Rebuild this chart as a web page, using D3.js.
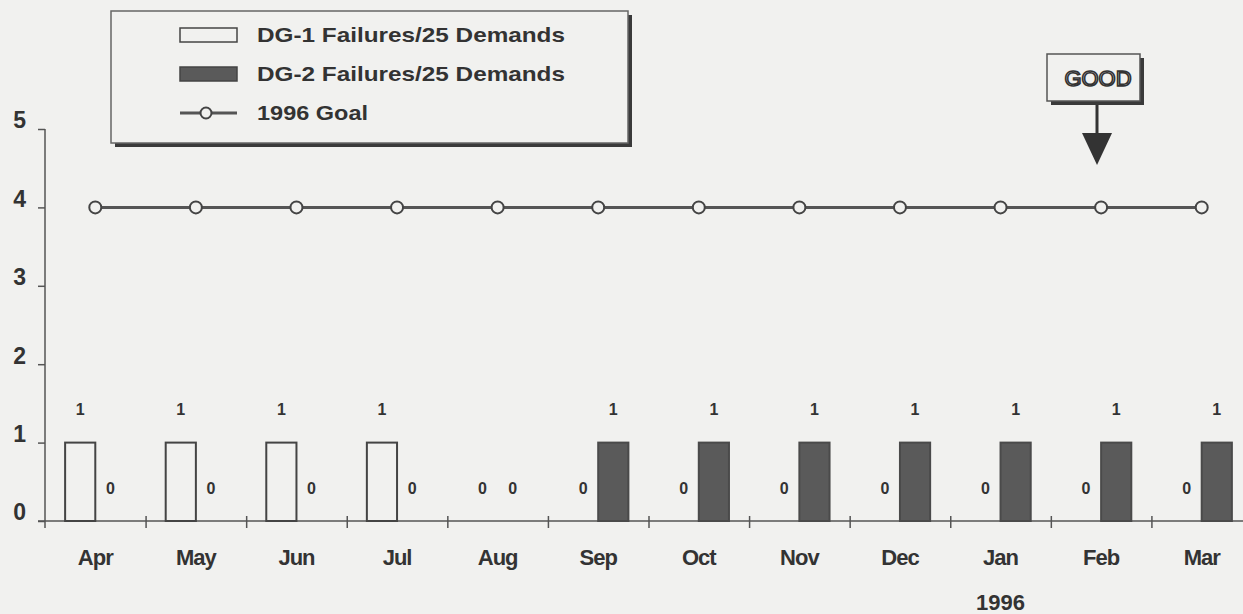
<!DOCTYPE html>
<html>
<head>
<meta charset="utf-8">
<script src="https://cdn.jsdelivr.net/npm/d3@7"></script>
<style>
  body { margin: 0; background: #f1f1ef; }
  svg { display: block; font-family: "Liberation Sans", Arial, sans-serif; }
  .axis path, .axis line { stroke: #555; stroke-width: 1.5; }
  .axis text { fill: #333; }
</style>
</head>
<body>
<div id="chart"></div>
<script>
// Data
var months = ["Apr", "May", "Jun", "Jul", "Aug", "Sep", "Oct", "Nov", "Dec", "Jan", "Feb", "Mar"];
var dg1Failures = [1, 1, 1, 1, 0, 0, 0, 0, 0, 0, 0, 0];
var dg2Failures = [0, 0, 0, 0, 0, 1, 1, 1, 1, 1, 1, 1];
var goal1996 = [4, 4, 4, 4, 4, 4, 4, 4, 4, 4, 4, 4];
var yTicks = [0, 1, 2, 3, 4, 5];
var seriesNames = ["DG-1  Failures/25 Demands", "DG-2  Failures/25 Demands", "1996 Goal"];

var width = 1243, height = 614;
var ink = "#333";
var bg = "#f1f1ef";

var svg = d3.select("#chart").append("svg")
  .attr("width", width)
  .attr("height", height);

// Scales
var x = d3.scaleBand()
  .domain(months)
  .range([45, 1252])
  .paddingInner(0.4)
  .paddingOuter(0.2);

var xSub = d3.scaleBand()
  .domain(["dg1", "dg2"])
  .range([0, x.bandwidth()]);

var xEdge = d3.scaleLinear()
  .domain([0, months.length])
  .range([45, 1252]);

var y = d3.scaleLinear()
  .domain([0, 5])
  .range([521, 129]);

// Y axis
var yAxis = svg.append("g")
  .attr("class", "y axis")
  .attr("transform", "translate(45,0)")
  .call(d3.axisLeft(y).tickValues(yTicks).tickFormat(d3.format("d"))
    .tickSize(7).tickPadding(12).tickSizeOuter(0));

yAxis.select(".domain").attr("d", "M0," + y(5) + "V" + (y(0) + 7));
yAxis.selectAll("text")
  .attr("font-size", 23)
  .attr("font-weight", "bold")
  .attr("dy", "-0.05em");

// X axis: boundary ticks
var xAxis = svg.append("g")
  .attr("class", "x axis")
  .attr("transform", "translate(0," + y(0) + ")")
  .call(d3.axisBottom(xEdge).tickValues(d3.range(1, months.length)).tickSize(7).tickFormat("").tickSizeOuter(0));

xAxis.select(".domain").attr("d", "M38,0H" + width);
xAxis.selectAll(".tick line").attr("y1", -5);

// X labels
var xLabels = svg.append("g")
  .attr("class", "x axis labels")
  .attr("transform", "translate(0," + y(0) + ")")
  .call(d3.axisBottom(x).tickSize(0).tickPadding(0));

xLabels.select(".domain").remove();
xLabels.selectAll("text")
  .attr("y", 44)
  .attr("dy", 0)
  .attr("font-size", 22)
  .attr("font-weight", "bold")
  .attr("letter-spacing", "-1px");

xLabels.selectAll(".tick")
  .filter(function(d) { return d === "Jan"; })
  .append("text")
  .attr("y", 89)
  .attr("text-anchor", "middle")
  .attr("font-size", 22)
  .attr("font-weight", "bold")
  .attr("fill", ink)
  .text("1996");

// Bars
var rows = months.map(function(m, i) {
  return { month: m, values: [
    { key: "dg1", val: dg1Failures[i] },
    { key: "dg2", val: dg2Failures[i] }
  ] };
});

var groups = svg.selectAll(".month")
  .data(rows)
  .enter()
  .append("g")
  .attr("class", "month")
  .attr("transform", function(d) { return "translate(" + x(d.month) + ",0)"; });

groups.selectAll("rect")
  .data(function(d) { return d.values.filter(function(v) { return v.val > 0; }); })
  .enter()
  .append("rect")
  .attr("x", function(d) { return xSub(d.key); })
  .attr("y", function(d) { return y(d.val); })
  .attr("width", xSub.bandwidth())
  .attr("height", function(d) { return y(0) - y(d.val); })
  .attr("fill", function(d) { return d.key === "dg1" ? bg : "#5a5a5a"; })
  .attr("stroke", function(d) { return d.key === "dg1" ? "#444" : "#4a4a4a"; })
  .attr("stroke-width", 2);

// Value labels
groups.selectAll(".val")
  .data(function(d) { return d.values; })
  .enter()
  .append("text")
  .attr("class", "val")
  .attr("x", function(d) { return xSub(d.key) + xSub.bandwidth() / 2; })
  .attr("y", function(d) { return y(d.val) - 33; })
  .attr("dy", "0.35em")
  .attr("text-anchor", "middle")
  .attr("font-size", 16)
  .attr("font-weight", "bold")
  .attr("fill", ink)
  .text(function(d) { return d.val; });

// Goal line
var cx = function(i) { return x(months[i]) + x.bandwidth() / 2; };

svg.append("path")
  .datum(goal1996)
  .attr("fill", "none")
  .attr("stroke", "#555")
  .attr("stroke-width", 3)
  .attr("d", d3.line().x(function(d, i) { return cx(i); }).y(function(d) { return y(d); }));

svg.selectAll(".goal-pt")
  .data(goal1996)
  .enter()
  .append("circle")
  .attr("class", "goal-pt")
  .attr("cx", function(d, i) { return cx(i); })
  .attr("cy", function(d) { return y(d); })
  .attr("r", 6)
  .attr("fill", bg)
  .attr("stroke", "#444")
  .attr("stroke-width", 2);

// Legend
var legend = svg.append("g").attr("class", "legend");

legend.append("rect")
  .attr("x", 115).attr("y", 15)
  .attr("width", 517).attr("height", 132)
  .attr("fill", "#3a3a3a");

legend.append("rect")
  .attr("x", 111).attr("y", 11)
  .attr("width", 517).attr("height", 132)
  .attr("fill", bg)
  .attr("stroke", "#666")
  .attr("stroke-width", 1.5);

var legendWidths = [308, 308, 111];

var legendItems = legend.selectAll(".key")
  .data(seriesNames)
  .enter()
  .append("g")
  .attr("class", "key")
  .attr("transform", function(d, i) { return "translate(180," + (35 + i * 39) + ")"; });

legendItems.each(function(d, i) {
  var g = d3.select(this);
  if (i < 2) {
    g.append("rect")
      .attr("x", 0).attr("y", -7)
      .attr("width", 57).attr("height", 14)
      .attr("fill", i === 0 ? bg : "#5a5a5a")
      .attr("stroke", "#444")
      .attr("stroke-width", 1.5);
  } else {
    g.append("line")
      .attr("x1", 0).attr("x2", 57)
      .attr("stroke", "#555").attr("stroke-width", 3);
    g.append("circle")
      .attr("cx", 26).attr("r", 5.5)
      .attr("fill", bg).attr("stroke", "#444").attr("stroke-width", 2);
  }
  g.append("text")
    .attr("x", 77)
    .attr("dy", "0.35em")
    .attr("font-size", 21)
    .attr("font-weight", "bold")
    .attr("textLength", legendWidths[i])
    .attr("lengthAdjust", "spacingAndGlyphs")
    .attr("fill", ink)
    .text(d);
});

// GOOD marker
var good = svg.append("g").attr("class", "good");

good.append("rect")
  .attr("x", 1051).attr("y", 58)
  .attr("width", 93).attr("height", 47)
  .attr("fill", "#3a3a3a");

good.append("rect")
  .attr("x", 1047).attr("y", 54)
  .attr("width", 93).attr("height", 47)
  .attr("fill", bg)
  .attr("stroke", "#555")
  .attr("stroke-width", 1.5);

good.append("text")
  .attr("x", 1098).attr("y", 78)
  .attr("dy", "0.35em")
  .attr("text-anchor", "middle")
  .attr("font-size", 22)
  .attr("fill", bg)
  .attr("stroke", "#333")
  .attr("stroke-width", 1.6)
  .text("GOOD");

good.append("line")
  .attr("x1", 1097).attr("x2", 1097)
  .attr("y1", 105).attr("y2", 135)
  .attr("stroke", "#333").attr("stroke-width", 3);

good.append("path")
  .attr("d", "M1082,133L1112,133L1097,165Z")
  .attr("fill", "#333");
</script>
</body>
</html>
